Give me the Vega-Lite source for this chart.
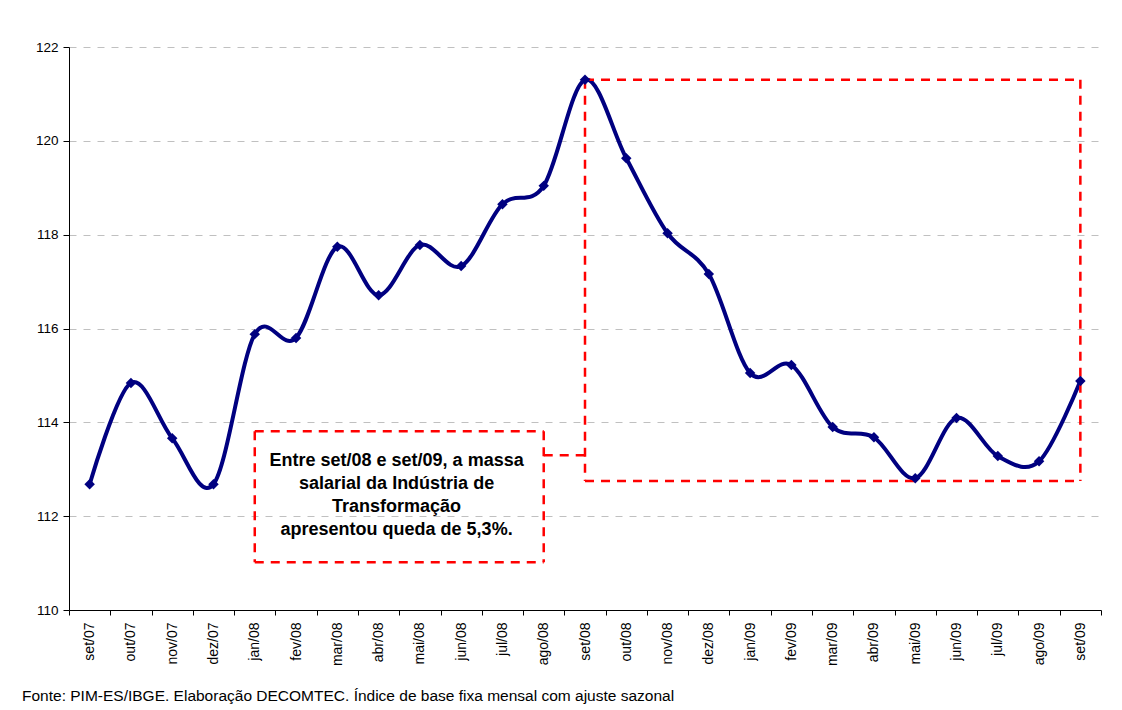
{
  "$schema": "https://vega.github.io/schema/vega-lite/v6.json",
  "width": 1032,
  "height": 563,
  "autosize": {"type": "none"},
  "padding": {"left": 69, "top": 47, "right": 21, "bottom": 100},
  "background": "white",
  "config": {
    "font": "Liberation Sans",
    "view": {"stroke": null},
    "axis": {"labelFont": "Liberation Sans", "labelColor": "black", "domainColor": "black", "tickColor": "black"}
  },
  "title": {
    "text": "Fonte: PIM-ES/IBGE. Elaboração DECOMTEC. Índice de base fixa mensal com ajuste sazonal",
    "orient": "bottom",
    "anchor": "start",
    "frame": "group",
    "dx": -47,
    "offset": 23,
    "fontSize": 15.5,
    "fontWeight": "normal",
    "font": "Liberation Sans",
    "color": "black"
  },
  "datasets": {
    "series": [
      {"mes": "set/07", "valor": 112.68},
      {"mes": "out/07", "valor": 114.84},
      {"mes": "nov/07", "valor": 113.66},
      {"mes": "dez/07", "valor": 112.68},
      {"mes": "jan/08", "valor": 115.88},
      {"mes": "fev/08", "valor": 115.8},
      {"mes": "mar/08", "valor": 117.74},
      {"mes": "abr/08", "valor": 116.71},
      {"mes": "mai/08", "valor": 117.78},
      {"mes": "jun/08", "valor": 117.33},
      {"mes": "jul/08", "valor": 118.65},
      {"mes": "ago/08", "valor": 119.04},
      {"mes": "set/08", "valor": 121.3},
      {"mes": "out/08", "valor": 119.63},
      {"mes": "nov/08", "valor": 118.03},
      {"mes": "dez/08", "valor": 117.16},
      {"mes": "jan/09", "valor": 115.05},
      {"mes": "fev/09", "valor": 115.22},
      {"mes": "mar/09", "valor": 113.9},
      {"mes": "abr/09", "valor": 113.68},
      {"mes": "mai/09", "valor": 112.81},
      {"mes": "jun/09", "valor": 114.09},
      {"mes": "jul/09", "valor": 113.28},
      {"mes": "ago/09", "valor": 113.17},
      {"mes": "set/09", "valor": 114.88}
    ],
    "segs": [
      {"x": "set/08", "x2": "set/09", "y": 121.3, "y2": 121.3},
      {"x": "set/08", "x2": "set/09", "y": 112.75, "y2": 112.75},
      {"x": "set/08", "x2": "set/08", "y": 121.3, "y2": 112.75},
      {"x": "set/09", "x2": "set/09", "y": 121.3, "y2": 112.75},
      {"x": "ago/08", "x2": "set/08", "y": 113.3, "y2": 113.3},
      {"x": "jan/08", "x2": "ago/08", "y": 113.81, "y2": 113.81},
      {"x": "jan/08", "x2": "ago/08", "y": 111.02, "y2": 111.02},
      {"x": "jan/08", "x2": "jan/08", "y": 113.81, "y2": 111.02},
      {"x": "ago/08", "x2": "ago/08", "y": 113.81, "y2": 111.02}
    ],
    "nota": [
      {"mes": "abr/08", "valor": 113.17, "texto": "Entre set/08 e set/09, a massa\nsalarial da Indústria de\nTransformação\napresentou queda de 5,3%."}
    ]
  },
  "layer": [
    {
      "data": {"name": "series"},
      "mark": {"type": "line", "color": "#000080", "strokeWidth": 4, "interpolate": "cardinal"},
      "encoding": {
        "x": {
          "field": "mes", "type": "ordinal", "sort": null,
          "scale": {"type": "band", "paddingInner": 0, "paddingOuter": 0},
          "axis": {"title": null, "labelAngle": -90, "labelFontSize": 14, "labelPadding": 7, "tickSize": 5, "tickBand": "extent", "grid": false, "domainWidth": 1}
        },
        "y": {
          "field": "valor", "type": "quantitative",
          "scale": {"domain": [110, 122], "nice": false, "zero": false},
          "axis": {"title": null, "values": [110, 112, 114, 116, 118, 120, 122], "labelFontSize": 13.5, "tickSize": 6, "labelPadding": 5, "grid": true, "gridColor": "#c0c0c0", "gridDash": [7, 7], "gridWidth": 1}
        }
      }
    },
    {
      "data": {"name": "segs"},
      "mark": {"type": "rule", "color": "#ff0000", "strokeWidth": 2.5, "strokeDash": [9, 7]},
      "encoding": {
        "x": {"field": "x", "type": "ordinal", "sort": null},
        "x2": {"field": "x2"},
        "y": {"field": "y", "type": "quantitative"},
        "y2": {"field": "y2"}
      }
    },
    {
      "data": {"name": "series"},
      "mark": {"type": "point", "shape": "diamond", "filled": true, "color": "#000080", "size": 110, "opacity": 1},
      "encoding": {
        "x": {"field": "mes", "type": "ordinal", "sort": null},
        "y": {"field": "valor", "type": "quantitative"}
      }
    },
    {
      "data": {"name": "nota"},
      "mark": {"type": "text", "font": "Liberation Sans", "fontWeight": "bold", "fontSize": 18, "lineHeight": 23, "lineBreak": "\n", "align": "center", "baseline": "middle", "dx": 18, "color": "black"},
      "encoding": {
        "x": {"field": "mes", "type": "ordinal", "sort": null},
        "y": {"field": "valor", "type": "quantitative"},
        "text": {"field": "texto"}
      }
    }
  ]
}
